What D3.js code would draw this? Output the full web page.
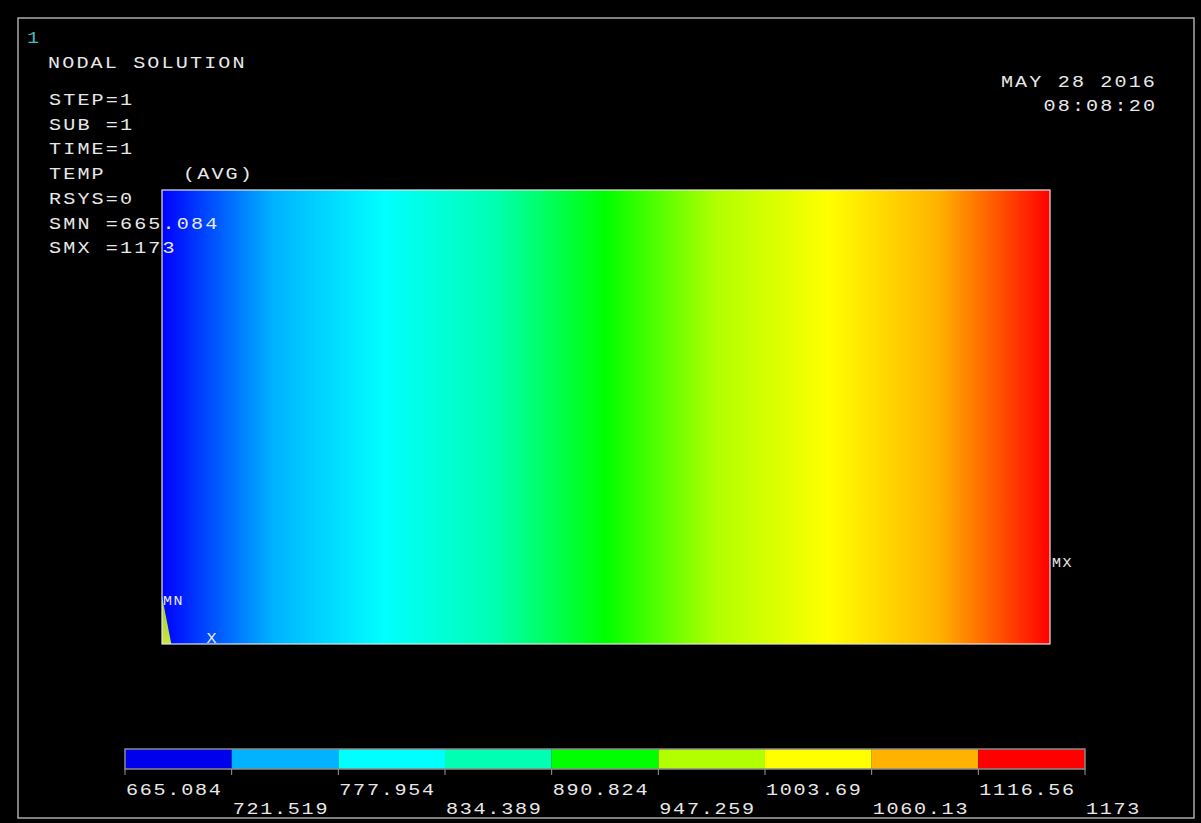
<!DOCTYPE html>
<html>
<head>
<meta charset="utf-8">
<script src="https://cdn.jsdelivr.net/npm/d3@7"></script>
<style>
  html, body { margin: 0; padding: 0; background: #000; }
  svg { display: block; }
  text { font-family: "Liberation Mono", "DejaVu Sans Mono", monospace; fill: #e8e8e8; }
</style>
</head>
<body>
<svg id="chart" width="1201" height="823"></svg>
<script>
// ---- Model: plate, nodal temperatures along the length (steady conduction) ----
const plateLength = 2.0;
const plateHeight = 1.0;
const nodeX    = [0.0, 0.2, 0.4, 0.6, 0.8, 1.0, 1.2, 1.4, 1.6, 1.8, 2.0];
const nodeTemp = [665.084, 715.9, 766.7, 817.5, 868.3, 919.0, 969.8, 1020.6, 1071.4, 1122.2, 1173];

// Small distorted element at the lower-left corner (model coordinates)
const cornerElement = [[0.0, 0.105], [0.0, 0.0], [0.021, 0.0]];

// ---- Contour legend ----
const legendValues = [665.084, 721.519, 777.954, 834.389, 890.824, 947.259, 1003.69, 1060.13, 1116.56, 1173];
const legendLabels = ["665.084", "721.519", "777.954", "834.389", "890.824", "947.259", "1003.69", "1060.13", "1116.56", "1173"];
const contourColors = ["#0000ff", "#00b2ff", "#00ffff", "#00ffb2", "#00ff00", "#b2ff00", "#ffff00", "#ffb200", "#ff0000"];
const legendBandColors = ["#0000ec", "#00b2ff", "#00ffff", "#00ffb2", "#00ff00", "#b2ff00", "#ffff00", "#ffb200", "#ff0000"];

// ---- Header text ----
const windowNumber = "1";
const titleLine = "NODAL SOLUTION";
const infoLines = ["STEP=1", "SUB =1", "TIME=1", "TEMP", "RSYS=0", "SMN =665.084", "SMX =1173"];
const avgTag = "(AVG)";
const dateLines = ["MAY 28 2016", "08:08:20"];

const svg = d3.select("#chart");
const tMin = d3.min(nodeTemp), tMax = d3.max(nodeTemp);

// Screen scales for the plate
const x = d3.scaleLinear().domain([0, plateLength]).range([162, 1050]);
const y = d3.scaleLinear().domain([0, plateHeight]).range([644, 190]);

// Smooth contour colour map: 9 colours spread evenly between min and max
const colorDomain = contourColors.map((c, i) => tMin + (tMax - tMin) * i / (contourColors.length - 1));
const color = d3.scaleLinear().domain(colorDomain).range(contourColors).clamp(true);

// Position along the plate where each colour is reached (inverse of nodal profile)
const tempToX = d3.scaleLinear().domain(nodeTemp).range(nodeX);

// Wide terminal-style lettering: glyphs stretched horizontally
const FONT = { size: 16.5, stretch: 1.22, advance: 14.2 };
function label(parent, str, px, py, opts = {}) {
  const size = opts.size || FONT.size;
  const stretch = opts.stretch || FONT.stretch;
  const adv = opts.advance || FONT.advance;
  const ls = adv / stretch - size * 0.6;
  const t = parent.append("text")
    .attr("transform", `translate(${px},${py}) scale(${stretch},1)`)
    .attr("font-size", size)
    .attr("letter-spacing", ls.toFixed(2))
    .text(str);
  if (opts.anchor === "end") {
    // right-align on the last glyph, ignoring trailing spacing
    const w = (str.length - 1) * adv + size * 0.6 * stretch;
    t.attr("transform", `translate(${px - w},${py}) scale(${stretch},1)`);
  }
  if (opts.fill) t.style("fill", opts.fill);
  return t;
}

// Outer window frame
svg.append("rect")
  .attr("x", 18).attr("y", 18).attr("width", 1176).attr("height", 800)
  .attr("fill", "none").attr("stroke", "#a9a9a9").attr("stroke-width", 1.5);

// Gradient that follows the temperature field
const defs = svg.append("defs");
const grad = defs.append("linearGradient")
  .attr("id", "tempField")
  .attr("gradientUnits", "userSpaceOnUse")
  .attr("x1", x(0)).attr("x2", x(plateLength)).attr("y1", 0).attr("y2", 0);
grad.selectAll("stop")
  .data(colorDomain)
  .join("stop")
  .attr("offset", t => (x(tempToX(t)) - x(0)) / (x(plateLength) - x(0)))
  .attr("stop-color", t => color(t));

// Plate with contours
svg.append("rect")
  .attr("x", x(0)).attr("y", y(plateHeight))
  .attr("width", x(plateLength) - x(0)).attr("height", y(0) - y(plateHeight))
  .attr("fill", "url(#tempField)");

// Distorted corner element
const cornerGrad = defs.append("linearGradient")
  .attr("id", "cornerFill").attr("x1", 0).attr("x2", 0).attr("y1", 0).attr("y2", 1);
cornerGrad.append("stop").attr("offset", 0).attr("stop-color", "#9ccc3c");
cornerGrad.append("stop").attr("offset", 1).attr("stop-color", "#c8e640");
svg.append("polygon")
  .attr("points", cornerElement.map(p => [x(p[0]), y(p[1])].join(",")).join(" "))
  .attr("fill", "url(#cornerFill)");

// Plate outline
svg.append("rect")
  .attr("x", x(0)).attr("y", y(plateHeight))
  .attr("width", x(plateLength) - x(0)).attr("height", y(0) - y(plateHeight))
  .attr("fill", "none").attr("stroke", "#e4e4e4").attr("stroke-width", 1.2);

// Min / max markers and triad label
const minIdx = nodeTemp.indexOf(tMin), maxIdx = nodeTemp.indexOf(tMax);
const small = { size: 13, stretch: 1.15, advance: 10.5 };
label(svg, "MN", x(nodeX[minIdx]) + 1, y(0.085), small);
label(svg, "MX", x(nodeX[maxIdx]) + 2, y(0.17), small);
label(svg, "X", x(0.1), y(0) - 1, { size: 14, stretch: 1.2, advance: 12 });

// Header text
label(svg, windowNumber, 27, 43, { fill: "#4fb8b8" });
label(svg, titleLine, 48, 68);
infoLines.forEach((s, i) => label(svg, s, 49, 105 + i * 24.7));
label(svg, avgTag, 183, 105 + 3 * 24.7);
dateLines.forEach((s, i) => label(svg, s, 1155, 87 + i * 24, { anchor: "end" }));

// ---- Legend bar ----
const lx = d3.scaleLinear().domain([legendValues[0], legendValues[legendValues.length - 1]]).range([125, 1085]);
const legendTop = 749, legendH = 20;
const bands = d3.pairs(legendValues).map((p, i) => ({ lo: p[0], hi: p[1], c: legendBandColors[i] }));
svg.selectAll("rect.band")
  .data(bands)
  .join("rect")
  .attr("class", "band")
  .attr("x", d => lx(d.lo)).attr("y", legendTop)
  .attr("width", d => lx(d.hi) - lx(d.lo)).attr("height", legendH)
  .attr("fill", d => d.c);
svg.append("rect")
  .attr("x", lx.range()[0]).attr("y", legendTop)
  .attr("width", lx.range()[1] - lx.range()[0]).attr("height", legendH)
  .attr("fill", "none").attr("stroke", "#8a8a8a").attr("stroke-width", 1.5);
svg.selectAll("line.tick")
  .data(legendValues)
  .join("line")
  .attr("class", "tick")
  .attr("x1", d => lx(d)).attr("x2", d => lx(d))
  .attr("y1", legendTop + legendH).attr("y2", legendTop + legendH + 6)
  .attr("stroke", "#9a9a9a").attr("stroke-width", 1);
legendValues.forEach((v, i) =>
  label(svg, legendLabels[i], lx(v) + 1, i % 2 === 0 ? 795 : 814, { advance: 13.8 }));
</script>
</body>
</html>
